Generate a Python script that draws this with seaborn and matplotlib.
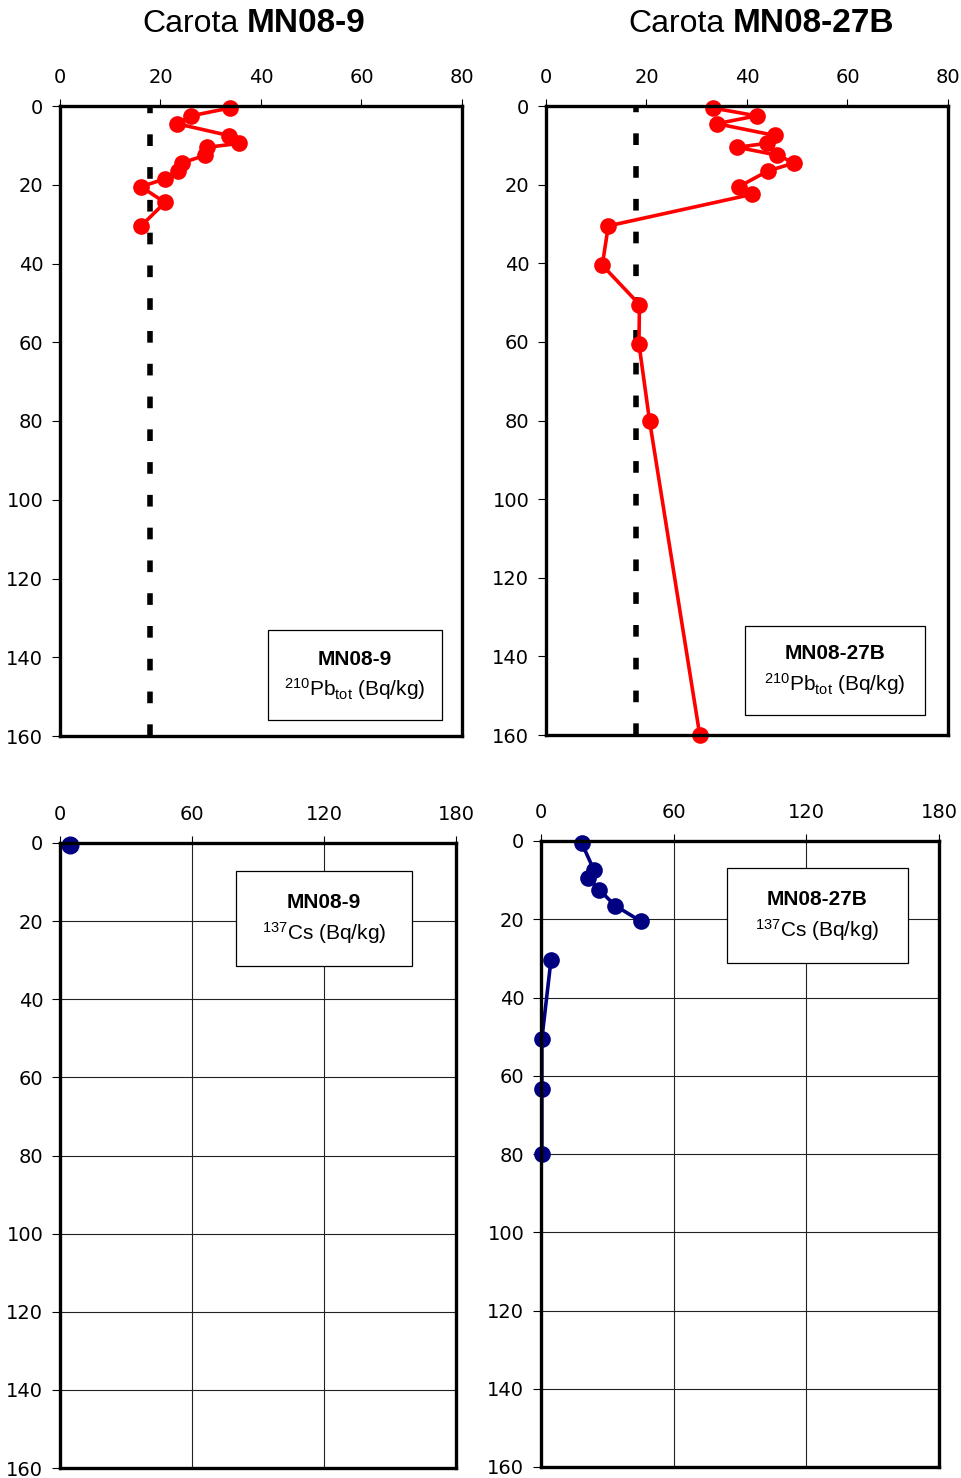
import numpy as np
import pandas as pd
import matplotlib
matplotlib.use('Agg')
import matplotlib.pyplot as plt
import seaborn as sns
from matplotlib.patches import Rectangle

# 210Pb tot (Bq/kg) against depth (cm)
pb_depth_9 = [0.5, 2.5, 4.5, 7.5, 9.5, 10.5, 12.5, 14.5, 16.5, 18.5, 20.5, 24.5, 30.5]
pb_act_9 = [33.8, 26.1, 23.3, 33.6, 35.7, 29.2, 28.9, 24.2, 23.5, 20.9, 16.1, 20.9, 16.1]

pb_depth_27 = [0.5, 2.5, 4.5, 7.5, 9.5, 10.5, 12.5, 14.5, 16.5, 20.5, 22.5,
               30.5, 40.5, 50.5, 60.5, 80.0, 160.0]
pb_act_27 = [33.2, 41.9, 34.0, 45.6, 43.9, 38.1, 46.0, 49.4, 44.2, 38.4, 40.9,
             12.4, 11.2, 18.6, 18.5, 20.6, 30.6]

# supported 210Pb level (dashed line)
pb_supported = 18.0

# 137Cs (Bq/kg) against depth (cm)
cs_depth_9 = [0.5]
cs_act_9 = [4.5]

cs_depth_27 = [0.5, 7.5, 9.5, 12.5, 16.5, 20.5, 30.5, 50.5, 63.5, 80.0]
cs_act_27 = [18.4, 24.0, 21.4, 26.4, 33.5, 45.1, 4.5, 0.4, 0.4, 0.4]
cs_segment_27 = [0, 0, 0, 0, 0, 0, 1, 1, 1, 1]

depth_ticks = list(range(0, 161, 20))
pb_ticks = [0, 20, 40, 60, 80]
cs_ticks = [0, 60, 120, 180]

sns.set_theme(style='white', rc={'text.color': 'black', 'axes.labelcolor': 'black',
                                 'xtick.color': 'black', 'ytick.color': 'black'})
plt.rcParams['font.family'] = ['DejaVu Sans']

W, H = 962, 1478
fig = plt.figure(figsize=(W / 100, H / 100), dpi=100)


def px_axes(x0, y0, x1, y1):
    return fig.add_axes([x0 / W, 1 - y1 / H, (x1 - x0) / W, (y1 - y0) / H])


ax_pb9 = px_axes(60, 106, 462, 736)
ax_pb27 = px_axes(546, 106, 948, 735)
ax_cs9 = px_axes(60, 843, 456, 1468)
ax_cs27 = px_axes(541, 841, 939, 1467)


def style_axes(ax, xmax, xticks, grid=False):
    ax.set_xlim(0, xmax)
    ax.set_ylim(160, 0)
    ax.set_xticks(xticks)
    ax.set_yticks(depth_ticks)
    ax.xaxis.tick_top()
    ax.tick_params(axis='x', direction='out', length=5, width=0.8, pad=9,
                   labelsize=14, colors='black', bottom=False, top=True)
    ax.tick_params(axis='y', direction='out', length=6, width=0.8, pad=6,
                   labelsize=14, colors='black', left=True)
    for s in ax.spines.values():
        s.set_visible(True)
        s.set_color('black')
        s.set_linewidth(2.4)
    ax.set_xlabel('')
    ax.set_ylabel('')
    if grid:
        for v in xticks[1:-1]:
            ax.axvline(v, color='#222222', lw=0.8, zorder=0.5)
        for d in depth_ticks[1:-1]:
            ax.axhline(d, color='#222222', lw=0.8, zorder=0.5)


def label_box(ax, x0, y0, x1, y1, name, line2, xc, yl1, yl2):
    ax.add_patch(Rectangle((x0, y0), x1 - x0, y1 - y0, transform=ax.transAxes,
                           facecolor='white', edgecolor='black', lw=0.9, zorder=3))
    ax.text(xc, yl1, name, transform=ax.transAxes, ha='center', va='center', color='black',
            fontsize=15, fontweight='bold', family=['Liberation Sans', 'DejaVu Sans'], zorder=4)
    ax.text(xc, yl2, line2, transform=ax.transAxes, ha='center', va='center', color='black',
            fontsize=15, family=['Liberation Sans', 'DejaVu Sans'], zorder=4)


pb_label = r'$\mathregular{^{210}Pb_{tot}}$ (Bq/kg)'
cs_label = r'$\mathregular{^{137}Cs}$ (Bq/kg)'

# --- 210Pb panels ---
df_pb9 = pd.DataFrame({'depth': pb_depth_9, 'act': pb_act_9})
df_pb27 = pd.DataFrame({'depth': pb_depth_27, 'act': pb_act_27})

for ax, df in [(ax_pb9, df_pb9), (ax_pb27, df_pb27)]:
    ax.axvline(pb_supported, color='black', lw=4, dashes=(2.1, 3.8), zorder=1)
    sns.lineplot(data=df, x='act', y='depth', sort=False, estimator=None, ax=ax,
                 color='#ff0000', lw=2.6, marker='o', markersize=12,
                 markeredgewidth=0, clip_on=False, zorder=2)
    style_axes(ax, 80, pb_ticks)

label_box(ax_pb9, 0.517, 0.025, 0.950, 0.168, 'MN08-9', pb_label, 0.734, 0.122, 0.074)
label_box(ax_pb27, 0.495, 0.032, 0.943, 0.173, 'MN08-27B', pb_label, 0.719, 0.129, 0.081)

# --- 137Cs panels ---
df_cs9 = pd.DataFrame({'depth': cs_depth_9, 'act': cs_act_9})
df_cs27 = pd.DataFrame({'depth': cs_depth_27, 'act': cs_act_27, 'seg': cs_segment_27})

sns.lineplot(data=df_cs9, x='act', y='depth', sort=False, estimator=None, ax=ax_cs9,
             color='#000080', lw=2.6, marker='o', markersize=13,
             markeredgewidth=0, clip_on=False, zorder=2)
sns.lineplot(data=df_cs27, x='act', y='depth', units='seg', sort=False, estimator=None,
             ax=ax_cs27, color='#000080', lw=2.6, marker='o', markersize=12,
             markeredgewidth=0, clip_on=False, zorder=2)

style_axes(ax_cs9, 180, cs_ticks, grid=True)
style_axes(ax_cs27, 180, cs_ticks, grid=True)

label_box(ax_cs9, 0.444, 0.803, 0.889, 0.955, 'MN08-9', cs_label, 0.667, 0.904, 0.856)
label_box(ax_cs27, 0.467, 0.805, 0.922, 0.957, 'MN08-27B', cs_label, 0.693, 0.907, 0.858)

# --- titles ---
title_font = ['Liberation Sans Narrow', 'Liberation Sans', 'DejaVu Sans']
for xr, xl, core in [(239, 247, 'MN08-9'), (725, 733, 'MN08-27B')]:
    fig.text(xr / W, 1 - 24 / H, 'Carota', ha='right', va='center', color='black',
             fontsize=23, family=title_font)
    fig.text(xl / W, 1 - 24 / H, core, ha='left', va='center', color='black',
             fontsize=24, fontweight='bold', family=title_font)

fig.savefig('out.png', dpi=100)
